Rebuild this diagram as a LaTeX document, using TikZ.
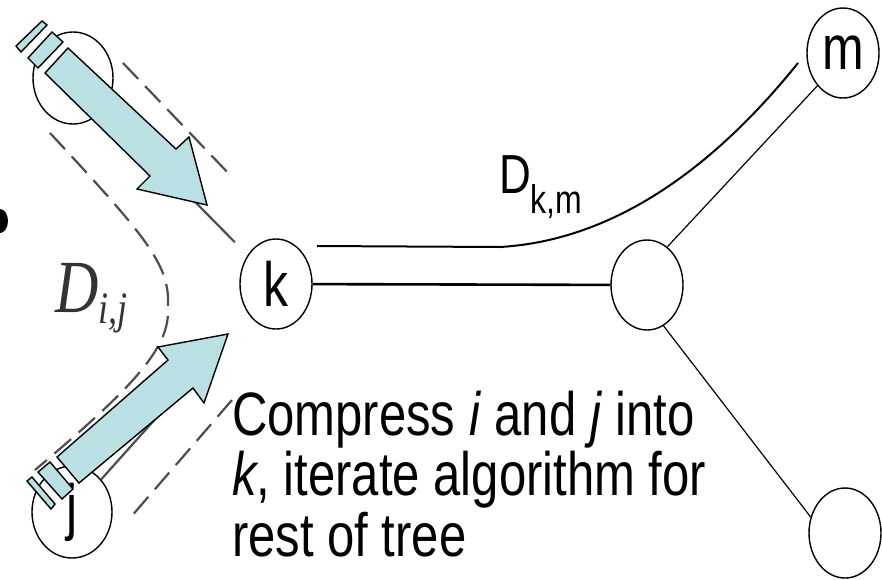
\documentclass[tikz,border=0pt]{standalone}
\usepackage{fontspec}
\setmainfont{Liberation Sans}
\newfontfamily\eqfont{Liberation Serif}
\usetikzlibrary{shapes.geometric}
\definecolor{arrowblue}{RGB}{187,224,227}
\definecolor{tubegray}{RGB}{77,77,77}
\newcommand{\vstretch}[1]{\scalebox{1}[1.25]{#1}}
\tikzset{
  treenode/.style={draw, ellipse, line width=1.4pt, minimum width=72pt, minimum height=90pt, inner sep=0pt, font=\fontsize{50}{50}\selectfont},
  leafnode/.style={treenode, minimum width=80pt, minimum height=92pt},
  tube/.style={tubegray, line width=2.2pt, dash pattern=on 22pt off 10pt},
  hiddenedge/.style={tubegray, line width=2.2pt},
  blockarrow/.style={draw=black, fill=arrowblue, line width=1.4pt, line join=miter},
}
\begin{document}
\begin{tikzpicture}[x=1pt,y=-1pt]
\useasboundingbox (0,0) rectangle (882,579);
\clip (0,0) rectangle (882,579);
% tree nodes
\node[leafnode] (i) at (73,78) {\vstretch{i}};
\node[leafnode] (j) at (72,512) {\vstretch{j}};
\node[treenode] (k) at (276,284) {\vstretch{k}};
\node[treenode] (mid) at (647,285) {};
\node[treenode] (m) at (843,53) {\vstretch{m}};
\node[treenode] (leaf) at (845,533) {};
% tree edges
\draw[line width=2.6pt] (k) -- (mid);
\draw[line width=1.2pt] (mid.62) -- (m.232);
\draw[line width=1.2pt] (mid.-68) -- (leaf.155);
\draw[hiddenedge, shorten >=18pt] (i) -- (k);
\draw[hiddenedge, shorten >=40pt] (j) -- (k);
% distance D_ij
\coordinate (tube top) at (123,63);
\coordinate (tube top end) at (232,177);
\coordinate (tube low) at (232,400);
\coordinate (tube low end) at (130,518);
\draw[tube] (50,133) .. controls (140,230) and (168,262) .. (168,300) -- (168,312)
  .. controls (168,350) and (130,390) .. (35,470);
\draw[tube] (tube top) -- (tube top end);
\draw[tube] (tube low) -- (tube low end);
% distance D_km
\coordinate (dkm start) at (317,246);
\coordinate (dkm end) at (798,63);
\draw[line width=2pt] (dkm start) -- (500,247) .. controls (620,240) and (720,160) .. (dkm end);
% cut blob at the left edge
\fill (0,221) ellipse [x radius=8pt, y radius=12pt];
% striped arrows
\draw[blockarrow] (45,73) -- (150,176) -- (137,189) -- (207,205) -- (189,137) -- (176,149) -- (68,48) -- cycle;
\draw[blockarrow] (28,58) -- (52,32) -- (63,42) -- (38,68) -- cycle;
\draw[blockarrow] (16,46) -- (42,21) -- (47,25) -- (21,52) -- cycle;
\draw[blockarrow] (57,457) -- (168,360) -- (158,347) -- (228,334) -- (204,403) -- (193,388) -- (79,483) -- cycle;
\draw[blockarrow] (38,472) -- (50,462) -- (73,489) -- (62,499) -- cycle;
\draw[blockarrow] (27,481) -- (32,477) -- (55,504) -- (51,509) -- cycle;
% labels
\node[anchor=base west, inner sep=0pt] (dkm) at (499,193)
  {\vstretch{\fontsize{44}{44}\selectfont D\raisebox{-16pt}{\fontsize{32}{32}\selectfont k,m}}};
\node[anchor=base west, inner sep=0pt, text=black!80] (dij) at (55,312)
  {\vstretch{\eqfont\itshape\fontsize{60}{60}\selectfont D\raisebox{-9pt}{\fontsize{36}{36}\selectfont i,j}}};
\node[anchor=base west, inner sep=0pt] (note) at (232,435)
  {\vstretch{\fontsize{49}{44}\selectfont\begin{tabular}[t]{@{}l@{}}Compress \textit{i} and \textit{j} into\\ \textit{k}, iterate algorithm for\\ rest of tree\end{tabular}}};
\end{tikzpicture}
\end{document}
